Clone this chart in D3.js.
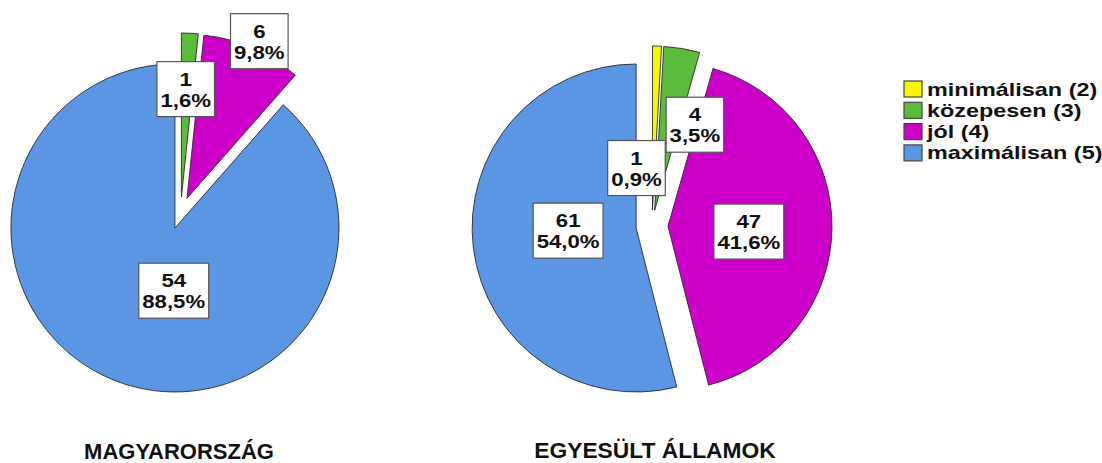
<!DOCTYPE html>
<html>
<head>
<meta charset="utf-8">
<script src="https://cdn.jsdelivr.net/npm/d3@7"></script>
<style>
  html, body { margin: 0; padding: 0; background: #fff; }
  svg { display: block; }
</style>
</head>
<body>
<div class="chart"></div>
<script>
// categories and counts
const categories = ["minimálisan (2)", "közepesen (3)", "jól (4)", "maximálisan (5)"]
const huCounts = [0, 1, 6, 54]
const usCounts = [1, 4, 47, 61]
const pieTitles = ["MAGYARORSZÁG", "EGYESÜLT ÁLLAMOK"]

const colors = ["#f8f800", "#5cbd3d", "#cc00c8", "#5a96e3"]

const width = 1102, height = 463
const radius = 164
const explode = 16
const textStretch = 1.2
const legendStretch = 1.3

// label placement relative to each slice (angle shift in degrees, distance from centre)
const huLabelPlace = [null, {da: -0.6, r: 124}, {da: 1, r: 189}, {da: -15.6, r: 78}]
const usLabelPlace = [{da: -16.6, r: 60}, {da: 13.4, r: 110}, {da: 2.5, r: 97}, {da: 4, r: 84}]

const pies = [
    {counts: huCounts, title: pieTitles[0], cx: 180.6, cy: 213, place: huLabelPlace, titleX: 179, titleY: 459, titleSize: 22},
    {counts: usCounts, title: pieTitles[1], cx: 652, cy: 226, place: usLabelPlace, titleX: 655, titleY: 458, titleSize: 22.8}
]

const svg = d3.select("div.chart").append("svg")
    .attr("width", width)
    .attr("height", height)

const fmt = v => d3.format(".1f")(v).replace(".", ",") + "%"

const pieGen = d3.pie().sort(null).value(d => d.value)
const arc = d3.arc().innerRadius(0).outerRadius(radius)

pies.forEach(p => {
    const total = d3.sum(p.counts)
    const items = p.counts.map((v, i) => ({value: v, i: i})).filter(d => d.value > 0)
    const arcs = pieGen(items)

    const g = svg.append("g").attr("transform", `translate(${p.cx},${p.cy})`)

    g.selectAll("path.slice")
        .data(arcs)
        .enter().append("path")
        .attr("class", "slice")
        .attr("d", arc)
        .attr("transform", d => {
            const a = (d.startAngle + d.endAngle) / 2
            return `translate(${explode * Math.sin(a)},${-explode * Math.cos(a)})`
        })
        .attr("fill", d => colors[d.data.i])
        .attr("stroke", "#2a2a2a")
        .attr("stroke-width", 0.9)
        .attr("stroke-linejoin", "round")

    const labels = g.selectAll("g.label")
        .data(arcs)
        .enter().append("g")
        .attr("class", "label")
        .attr("transform", d => {
            const pl = p.place[d.data.i]
            const a = (d.startAngle + d.endAngle) / 2 + pl.da * Math.PI / 180
            return `translate(${pl.r * Math.sin(a)},${-pl.r * Math.cos(a)})`
        })

    labels.append("rect")
        .attr("fill", "#fff")
        .attr("stroke", "#555")
        .attr("stroke-width", 1.2)

    const txt = labels.append("g")
        .attr("transform", `scale(${textStretch},1)`)
        .append("text")
        .attr("text-anchor", "middle")
        .style("font-family", "'Liberation Sans', Arial, sans-serif")
        .style("font-weight", "bold")
        .style("font-size", "18.5px")
        .attr("fill", "#111")

    txt.append("tspan").attr("x", 0).attr("y", -3.5).text(d => d.data.value)
    txt.append("tspan").attr("x", 0).attr("y", 17.5).text(d => fmt(d.data.value / total * 100))

    txt.each(function () {
        const w = this.getBBox().width * textStretch
        d3.select(this.parentNode.parentNode).select("rect")
            .attr("x", -w / 2 - 3.5)
            .attr("y", -27.5)
            .attr("width", w + 7)
            .attr("height", 55)
    })

    svg.append("text")
        .attr("x", p.titleX)
        .attr("y", p.titleY)
        .attr("text-anchor", "middle")
        .style("font-family", "'Liberation Sans', Arial, sans-serif")
        .style("font-weight", "bold")
        .style("font-size", p.titleSize + "px")
        .attr("fill", "#111")
        .text(p.title)
})

// legend
const legend = svg.append("g").attr("transform", "translate(904,81)")
const rows = legend.selectAll("g.row")
    .data(categories)
    .enter().append("g")
    .attr("class", "row")
    .attr("transform", (d, i) => `translate(0,${i * 21.3})`)

rows.append("rect")
    .attr("width", 18)
    .attr("height", 16)
    .attr("fill", (d, i) => colors[i])
    .attr("stroke", "#444")
    .attr("stroke-width", 1.2)

rows.append("g")
    .attr("transform", `translate(23,14.5) scale(${legendStretch},1)`)
    .append("text")
    .style("font-family", "'Liberation Sans', Arial, sans-serif")
    .style("font-weight", "bold")
    .style("font-size", "18px")
    .attr("fill", "#111")
    .text(d => d)
</script>
</body>
</html>
